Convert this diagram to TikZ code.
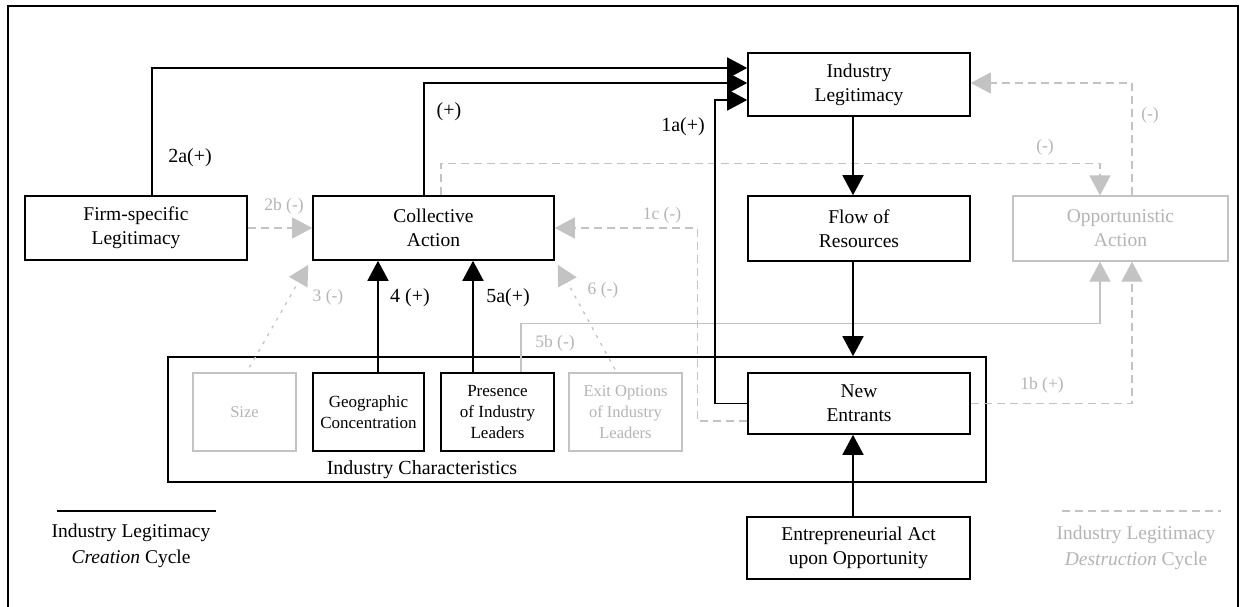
\documentclass[tikz,border=0pt]{standalone}
\usepackage{fontspec}
\setmainfont{Liberation Serif}
\usetikzlibrary{arrows.meta}
\definecolor{lg}{RGB}{195,195,195}
\definecolor{lgt}{RGB}{180,180,180}
\begin{document}
\begin{tikzpicture}[x=1pt,y=-1pt,
  box/.style={draw,line width=1.6pt,inner sep=0pt,align=center,font=\fontsize{19.5}{24}\selectfont},
  sbox/.style={box,font=\fontsize{17}{21}\selectfont},
  gbox/.style={draw=lg,line width=1.3pt,inner sep=0pt,align=center,text=lgt,font=\fontsize{19.5}{24}\selectfont},
  sgbox/.style={gbox,font=\fontsize{16.5}{21}\selectfont},
  blk/.style={line width=1.6pt,-{Triangle[length=20pt,width=21pt]}},
  gdash/.style={draw=lg,line width=1.3pt,dash pattern=on 8pt off 5pt,-{Triangle[length=20pt,width=21pt]}},
  gsolid/.style={draw=lg,line width=1.3pt,-{Triangle[length=20pt,width=21pt]}},
  gdot/.style={draw=lg,line width=1.3pt,dash pattern=on 3pt off 6pt,-{Triangle[length=20pt,width=21pt]}},
  blab/.style={inner sep=0pt,font=\fontsize{20}{22}\selectfont},
  glab/.style={inner sep=0pt,text=lgt,font=\fontsize{17.5}{20}\selectfont},
  legend/.style={inner sep=0pt,align=center,font=\fontsize{19.5}{26}\selectfont}
]
\useasboundingbox (0,0) rectangle (1243,607);
\draw[line width=1.6pt] (8,618) -- (8,6) -- (1238,6) -- (1238,618);

% industry characteristics container
\node[draw,line width=1.6pt,minimum width=818pt,minimum height=125pt,inner sep=0pt] (ic) at (577,419.5) {};
\node[blab,font=\fontsize{20}{24}\selectfont] (iclabel) at (422,470) {Industry Characteristics};

% boxes
\node[box,minimum width=222pt,minimum height=64pt] (fsl) at (136,228) {Firm-specific\\Legitimacy};
\node[box,minimum width=241pt,minimum height=64pt] (ca) at (433.5,228) {Collective\\Action};
\node[box,minimum width=222pt,minimum height=63pt] (il) at (859,84.5) {Industry\\Legitimacy};
\node[box,minimum width=222pt,minimum height=65pt] (fr) at (859,228.5) {Flow of\\Resources};
\node[gbox,minimum width=215pt,minimum height=65pt] (oa) at (1120.5,228.5) {Opportunistic\\Action};
\node[box,minimum width=222pt,minimum height=61pt] (ne) at (859,403.5) {New\\Entrants};
\node[sgbox,minimum width=103pt,minimum height=78pt] (size) at (244.5,412) {Size};
\node[sbox,minimum width=111pt,minimum height=78pt] (gc) at (368.5,412) {Geographic\\Concentration};
\node[sbox,minimum width=113pt,minimum height=78pt] (pil) at (497.5,412) {Presence\\of Industry\\Leaders};
\node[sgbox,minimum width=113pt,minimum height=78pt] (eo) at (625.5,412) {Exit Options\\of Industry\\Leaders};
\node[box,minimum width=223pt,minimum height=62pt] (ea) at (858.5,548) {Entrepreneurial Act\\upon Opportunity};

% gray connectors (behind)
\draw[gdash] (fsl.east) -- (ca.west);
\draw[gdot] ([xshift=5pt,yshift=5pt]size.north) -- ([xshift=-4pt,yshift=-4pt]ca.south west);
\draw[gdot] ([xshift=-10.5pt,yshift=3pt]eo.north) -- ([xshift=3pt,yshift=-4pt]ca.south east);
\draw[gdash] ([yshift=-17.5pt]ne.west) -- ++(-50,0) |- (ca.east);
\draw[gdash] ([xshift=7.5pt]ca.north) -- ++(0,-32) -| ([xshift=-20.5pt]oa.north);
\draw[gdash] ([xshift=11.5pt]oa.north) |- ([yshift=1.5pt]il.east);
\draw[gsolid] ([xshift=23.5pt]pil.north) -- ++(0,-49) -| ([xshift=-20.5pt]oa.south);
\draw[gdash] (ne.east) -| ([xshift=11.5pt]oa.south);

% black connectors
\draw[blk] ([xshift=128pt]fsl.north west) |- ([yshift=16.5pt]il.west);
\draw[blk] ([xshift=112pt]ca.north west) |- ([yshift=1.5pt]il.west);
\draw[blk] (ne.west) -- ++(-32,0) |- ([yshift=-15.5pt]il.west);
\draw[blk] ([xshift=-6pt]il.south) -- ([xshift=-6pt]fr.north);
\draw[blk] ([xshift=-6pt]fr.south) -- ([xshift=-6pt]fr.south |- ic.north);
\draw[blk] ([xshift=-5.5pt]ea.north) -- ([xshift=-5.5pt]ea.north |- ne.south);
\draw[blk] ([xshift=9.5pt]gc.north) -- ([xshift=9.5pt]gc.north |- ca.south);
\draw[blk] ([xshift=-24.5pt]pil.north) -- ([xshift=-24.5pt]pil.north |- ca.south);

% labels
\node[blab] (l2a) at (190,158) {2a(+)};
\node[blab] (lca) at (449,112) {(+)};
\node[blab] (l1a) at (683,127) {1a(+)};
\node[blab] (l4) at (410,298) {4 (+)};
\node[blab] (l5a) at (508,298) {5a(+)};
\node[glab] (l2b) at (284,206) {2b (-)};
\node[glab] (l3) at (328,297) {3 (-)};
\node[glab] (l6) at (603,290) {6 (-)};
\node[glab] (l5b) at (555,343) {5b (-)};
\node[glab] (l1c) at (662,215) {1c (-)};
\node[glab] (lcaoa) at (1045,147) {(-)};
\node[glab] (loail) at (1150,115) {(-)};
\node[glab] (l1b) at (1042,385) {1b (+)};

% legends
\coordinate (lgA) at (57,511);
\coordinate (lgB) at (216,511);
\draw[line width=1.6pt] (lgA) -- (lgB);
\node[legend] (legc) at (131,546) {Industry Legitimacy\\\textit{Creation} Cycle};
\coordinate (lgC) at (1062,511);
\coordinate (lgD) at (1221,511);
\draw[draw=lg,line width=1.3pt,dash pattern=on 8pt off 5pt] (lgC) -- (lgD);
\node[legend,text=lgt] (legd) at (1136,548) {Industry Legitimacy\\\textit{Destruction} Cycle};
\end{tikzpicture}
\end{document}
